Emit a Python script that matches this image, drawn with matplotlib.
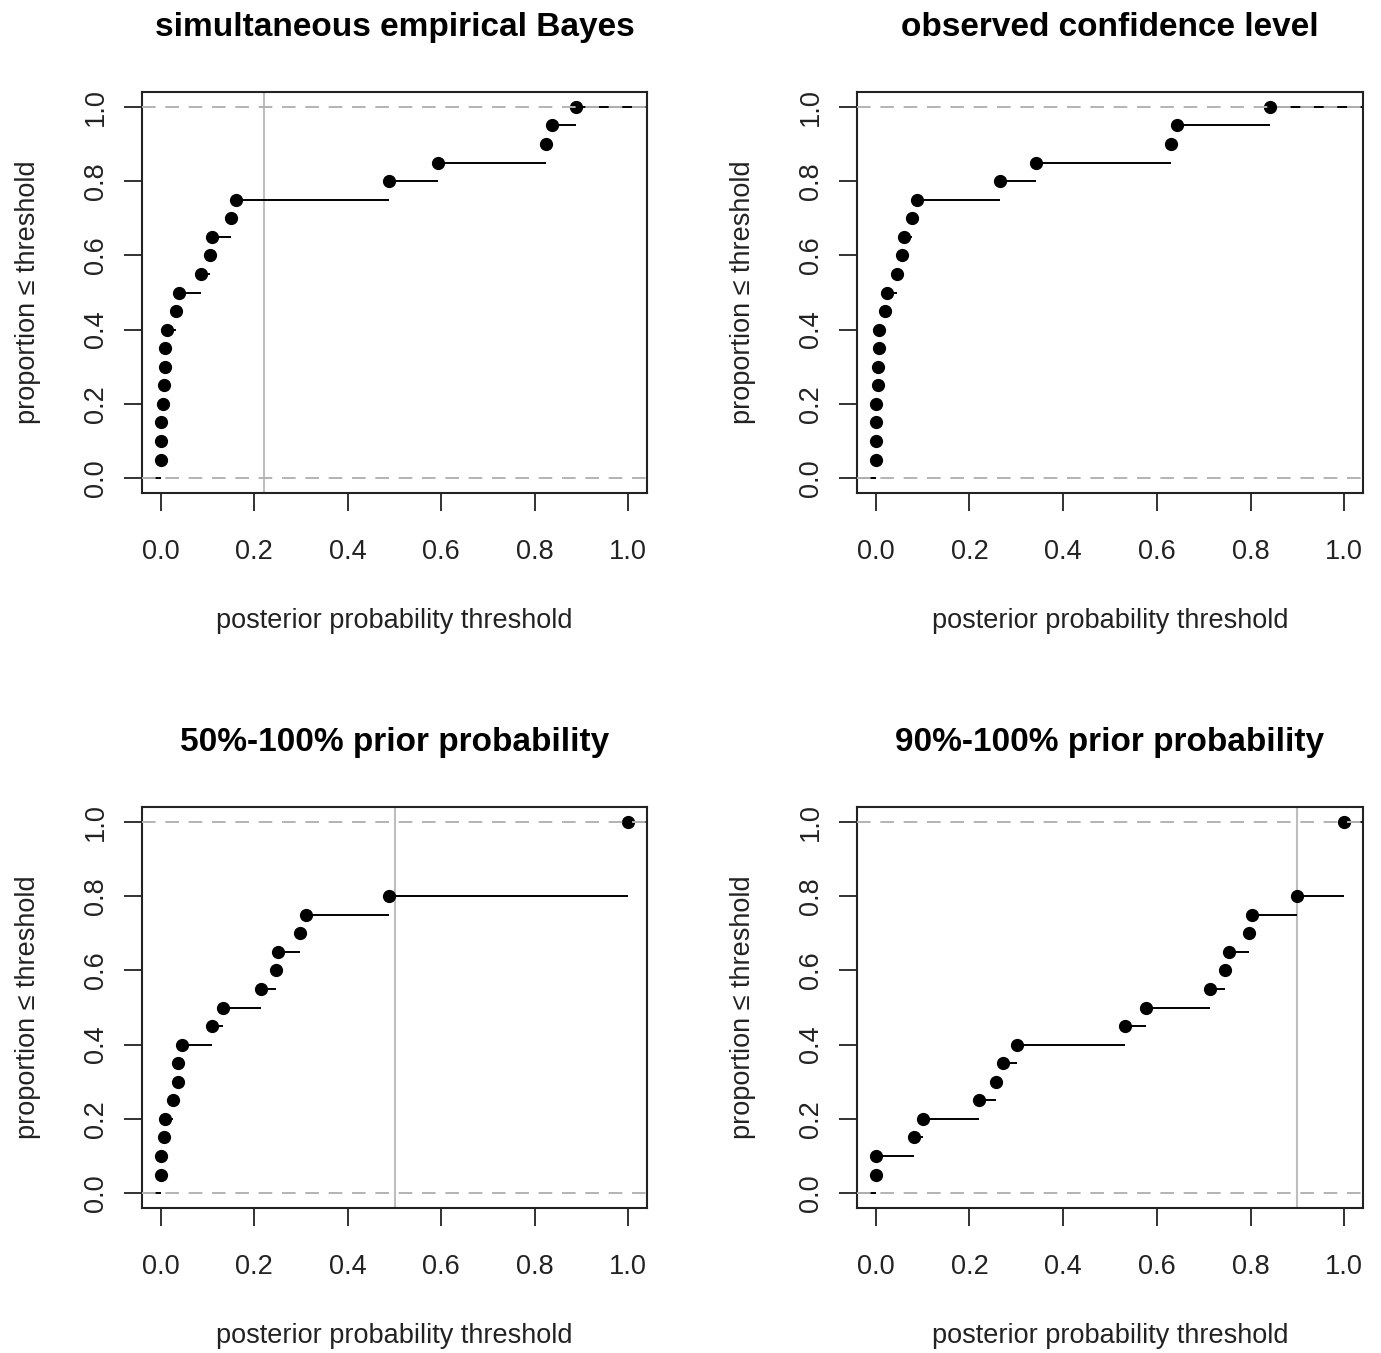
import numpy as np
import matplotlib
matplotlib.use("Agg")
import matplotlib.pyplot as plt

plt.rcParams['font.family'] = ['Liberation Sans', 'DejaVu Sans']

# sorted posterior probabilities, 20 per method
titles = ["simultaneous empirical Bayes", "observed confidence level",
          "50%-100% prior probability", "90%-100% prior probability"]

seb = [0.0, 0.0001, 0.0002, 0.004, 0.008, 0.009, 0.010, 0.014, 0.033, 0.040,
       0.086, 0.105, 0.109, 0.150, 0.160, 0.4875, 0.593, 0.825, 0.836, 0.889]
ocl = [0.0, 0.0001, 0.0002, 0.0003, 0.004, 0.005, 0.006, 0.007, 0.019, 0.023,
       0.046, 0.056, 0.060, 0.078, 0.087, 0.265, 0.343, 0.631, 0.644, 0.841]
prior50 = [0.0, 0.0001, 0.008, 0.009, 0.027, 0.037, 0.038, 0.046, 0.109, 0.133,
           0.215, 0.246, 0.251, 0.297, 0.310, 0.4875, 1.0, 1.0, 1.0, 1.0]
prior90 = [0.0, 0.0001, 0.082, 0.101, 0.220, 0.256, 0.271, 0.301, 0.531, 0.576,
           0.714, 0.745, 0.755, 0.796, 0.804, 0.899, 1.0, 1.0, 1.0, 1.0]

# gray vertical reference line per panel (None = no line)
vlines = [0.22, None, 0.5, 0.9]

datasets = [seb, ocl, prior50, prior90]

W, H = 1381, 1353
fig = plt.figure(figsize=(W / 100, H / 100), dpi=100)

# axes boxes in pixels: left, top, right, bottom
boxes = [(142, 92, 647, 493), (857, 92, 1363, 493),
         (142, 807, 647, 1208), (857, 807, 1363, 1208)]

xlo, xhi = -0.04, 1.04

for i in range(4):
    l, t, r, b = boxes[i]
    ax = fig.add_axes([l / W, (H - b) / H, (r - l) / W, (b - t) / H])
    x = np.array(datasets[i])
    n = len(x)
    ux = np.unique(x)
    F = np.array([np.sum(x <= u) / n for u in ux])

    # ecdf horizontal steps
    starts = np.concatenate([[xlo], ux])
    ends = np.concatenate([ux, [xhi]])
    levels = np.concatenate([[0.0], F])
    ax.hlines(levels, starts, ends, color='black', lw=1.4, zorder=2)
    ax.plot(ux, F, 'o', color='black', ms=8.5, zorder=3)

    # 0 / 1 reference lines
    for h in (0, 1):
        ax.axhline(h, color='#b3b3b3', lw=1.4, ls=(0, (7, 5)), zorder=4)
    if vlines[i] is not None:
        ax.axvline(vlines[i], color='#bebebe', lw=1.5, zorder=1)

    ax.set_xlim(xlo, xhi)
    ax.set_ylim(-0.04, 1.04)
    ticks = [0.0, 0.2, 0.4, 0.6, 0.8, 1.0]
    ax.set_xticks(ticks)
    ax.set_yticks(ticks)
    ax.set_xticklabels(["%.1f" % v for v in ticks])
    ax.set_yticklabels(["%.1f" % v for v in ticks], rotation=90, va='center')
    ax.tick_params(axis='both', length=13, width=1.3, color='#222222',
                   labelsize=19.5, labelcolor='#222222')
    ax.tick_params(axis='x', pad=20)
    ax.tick_params(axis='y', pad=11)
    for s in ax.spines.values():
        s.set_linewidth(1.5)
        s.set_color('#222222')

    ax.set_title(titles[i], fontsize=24, fontweight='bold', pad=40)
    ax.set_xlabel("posterior probability threshold", fontsize=19.5,
                  color='#222222', labelpad=31)
    ax.set_ylabel("proportion \u2264 threshold", fontsize=19.5,
                  color='#222222', labelpad=30)

fig.savefig("out.png", dpi=100)
